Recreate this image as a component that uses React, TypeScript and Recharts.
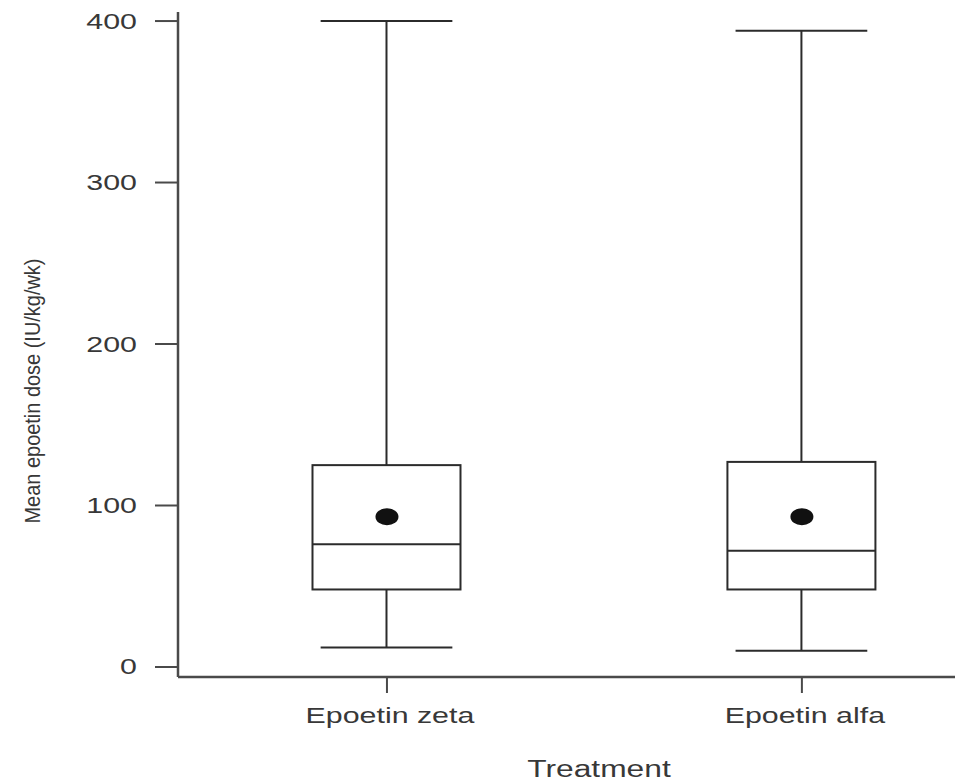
import React from 'react';
import { ComposedChart, Bar, Scatter, XAxis, YAxis } from 'recharts';

// Box-plot summary per treatment group
const categories = ['Epoetin zeta', 'Epoetin alfa'];
const positions = [1, 2];
const minValues = [12, 10];
const q1Values = [48, 48];
const medianValues = [76, 72];
const q3Values = [125, 127];
const maxValues = [400, 394];
const meanValues = [93, 93];
const yTicks = [0, 100, 200, 300, 400];

const data = categories.map((name, i) => ({
  name,
  pos: positions[i],
  min: minValues[i],
  q1: q1Values[i],
  median: medianValues[i],
  q3: q3Values[i],
  max: maxValues[i],
  mean: meanValues[i],
}));

const STRETCH = 1.38;
const LINE = '#2b2b2b';
const AXIS = '#4a4a4a';
const TEXT = '#383838';
const FONT = '"Liberation Sans", Arial, Helvetica, sans-serif';

// Draws one box with whiskers; the bar's own rectangle spans min..max,
// so the remaining positions come from the same linear scale.
const BoxShape = (props: any) => {
  const { x, y, width, height, payload } = props;
  if (!payload || height == null) return null;
  const top = Math.min(y, y + height);
  const h = Math.abs(height);
  const ppu = h / (payload.max - payload.min);
  const yOf = (v: number) => top + (payload.max - v) * ppu;
  const cx = x + width / 2;
  const capHalf = (width * 0.89) / 2;
  const yMax = yOf(payload.max);
  const yMin = yOf(payload.min);
  const yQ3 = yOf(payload.q3);
  const yQ1 = yOf(payload.q1);
  const yMed = yOf(payload.median);
  return (
    <g stroke={LINE} strokeWidth={2} fill="none">
      <line x1={cx - capHalf} x2={cx + capHalf} y1={yMax} y2={yMax} />
      <line x1={cx} x2={cx} y1={yMax} y2={yQ3} />
      <rect x={x} y={yQ3} width={width} height={yQ1 - yQ3} fill="#ffffff" />
      <line x1={x} x2={x + width} y1={yMed} y2={yMed} />
      <line x1={cx} x2={cx} y1={yQ1} y2={yMin} />
      <line x1={cx - capHalf} x2={cx + capHalf} y1={yMin} y2={yMin} />
    </g>
  );
};

const MeanDot = (props: any) => {
  const { cx, cy } = props;
  if (cx == null || cy == null) return null;
  return <ellipse cx={cx} cy={cy} rx={11.5} ry={8.5} fill="#111111" />;
};

const YTick = (props: any) => {
  const { x, y, payload } = props;
  return (
    <text
      transform={`translate(${x},${y + 7.5}) scale(${STRETCH},1)`}
      textAnchor="end"
      fontFamily={FONT}
      fontSize={22}
      fill={TEXT}
    >
      {payload.value}
    </text>
  );
};

const XTick = (props: any) => {
  const { x, y, payload } = props;
  const label = categories[positions.indexOf(payload.value)] ?? '';
  return (
    <text
      transform={`translate(${x + 3},${y + 28}) scale(${STRETCH},1)`}
      textAnchor="middle"
      fontFamily={FONT}
      fontSize={22}
      fill={TEXT}
    >
      {label}
    </text>
  );
};

export default function App() {
  return (
    <div style={{ position: 'absolute', left: 0, top: 0, background: '#ffffff' }}>
      <ComposedChart
        width={956}
        height={783}
        data={data}
        margin={{ top: 12, right: 1, bottom: 0, left: 0 }}
      >
        <XAxis
          type="number"
          dataKey="pos"
          domain={[0.4964, 2.369]}
          ticks={positions}
          allowDataOverflow
          height={106}
          tickSize={16}
          tickMargin={2}
          axisLine={{ stroke: AXIS, strokeWidth: 2.5 }}
          tickLine={{ stroke: AXIS, strokeWidth: 2 }}
          tick={<XTick />}
        />
        <YAxis
          type="number"
          domain={[-6.2, 405.6]}
          ticks={yTicks}
          allowDataOverflow
          width={178}
          tickSize={23}
          tickMargin={18}
          axisLine={{ stroke: AXIS, strokeWidth: 2.5 }}
          tickLine={{ stroke: AXIS, strokeWidth: 2 }}
          tick={<YTick />}
        />
        <Bar
          dataKey={(d: any) => [d.min, d.max]}
          barSize={148}
          shape={<BoxShape />}
          isAnimationActive={false}
        />
        <Scatter dataKey="mean" shape={<MeanDot />} isAnimationActive={false} />
        <text
          transform={`translate(40,391) scale(${STRETCH},1) rotate(-90)`}
          textAnchor="middle"
          fontFamily={FONT}
          fontSize={16}
          fill={TEXT}
          textLength={265}
          lengthAdjust="spacingAndGlyphs"
        >
          Mean epoetin dose (IU/kg/wk)
        </text>
        <text
          transform={`translate(599,777) scale(${STRETCH},1)`}
          textAnchor="middle"
          fontFamily={FONT}
          fontSize={23}
          fill={TEXT}
        >
          Treatment
        </text>
      </ComposedChart>
    </div>
  );
}
